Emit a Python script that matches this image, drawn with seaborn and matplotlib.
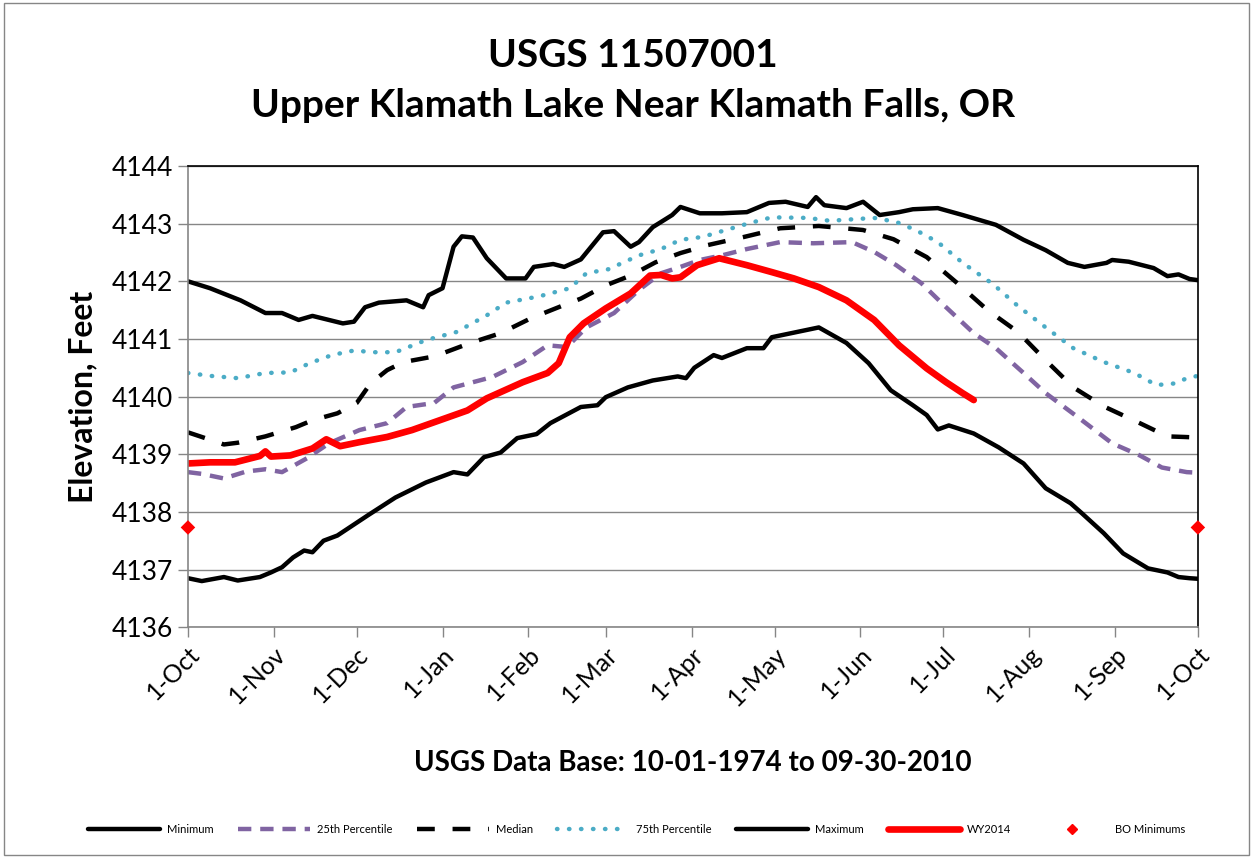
import matplotlib
matplotlib.use("Agg")
import matplotlib.pyplot as plt
import seaborn as sns
from matplotlib.patches import Rectangle
from matplotlib.lines import Line2D

# ---------------------------------------------------------------
# Datos (dia del año hidrologico, elevacion ft)
# ---------------------------------------------------------------
month_days = [0, 31, 61, 92, 123, 151, 182, 212, 243, 273, 304, 335, 365]
month_labels = ["1-Oct", "1-Nov", "1-Dec", "1-Jan", "1-Feb", "1-Mar", "1-Apr",
                "1-May", "1-Jun", "1-Jul", "1-Aug", "1-Sep", "1-Oct"]

max_days = [0, 8, 19, 28, 34, 40, 45, 56, 60, 64, 69, 79, 85, 87, 92, 96, 99,
            103, 108, 115, 122, 125, 132, 136, 142, 150, 154, 160, 163, 168,
            175, 178, 185, 193, 202, 210, 216, 224, 227, 230, 238, 244, 250,
            257, 262, 271, 280, 292, 302, 310, 318, 324, 332, 334, 340, 349,
            354, 358, 362, 365]
max_elev = [4142.00, 4141.88, 4141.67, 4141.45, 4141.45, 4141.33, 4141.40,
            4141.27, 4141.30, 4141.55, 4141.63, 4141.67, 4141.55, 4141.76,
            4141.88, 4142.60, 4142.78, 4142.76, 4142.40, 4142.05, 4142.05,
            4142.25, 4142.30, 4142.25, 4142.38, 4142.85, 4142.87, 4142.60,
            4142.68, 4142.94, 4143.15, 4143.29, 4143.18, 4143.18, 4143.20,
            4143.36, 4143.38, 4143.29, 4143.46, 4143.32, 4143.27, 4143.38,
            4143.15, 4143.20, 4143.25, 4143.27, 4143.15, 4142.98, 4142.72,
            4142.54, 4142.32, 4142.25, 4142.32, 4142.37, 4142.34, 4142.23,
            4142.09, 4142.12, 4142.04, 4142.02]

min_days = [0, 5, 13, 18, 26, 30, 34, 38, 42, 45, 49, 54, 65, 75, 86, 96, 101,
            107, 113, 119, 126, 131, 142, 148, 151, 159, 168, 177, 180, 183,
            190, 193, 202, 208, 211, 220, 228, 238, 246, 254, 262, 267, 271,
            275, 284, 293, 302, 310, 319, 323, 331, 338, 347, 354, 358, 362,
            365]
min_elev = [4136.85, 4136.80, 4136.87, 4136.81, 4136.87, 4136.95, 4137.04,
            4137.21, 4137.33, 4137.30, 4137.50, 4137.59, 4137.94, 4138.25,
            4138.51, 4138.69, 4138.65, 4138.95, 4139.03, 4139.28, 4139.35,
            4139.54, 4139.82, 4139.85, 4139.99, 4140.16, 4140.28, 4140.35,
            4140.32, 4140.50, 4140.72, 4140.67, 4140.84, 4140.84, 4141.03,
            4141.12, 4141.20, 4140.93, 4140.58, 4140.11, 4139.85, 4139.68,
            4139.43, 4139.50, 4139.36, 4139.12, 4138.84, 4138.41, 4138.15,
            4137.98, 4137.63, 4137.28, 4137.02, 4136.95, 4136.87, 4136.85,
            4136.84]

p25_days = [0, 5, 13, 21, 28, 34, 43, 51, 62, 72, 79, 89, 96, 110, 121, 130,
            137, 144, 154, 163, 171, 178, 185, 193, 202, 214, 226, 240, 248,
            256, 265, 274, 284, 292, 302, 310, 322, 334, 344, 352, 361, 365]
p25_elev = [4138.69, 4138.66, 4138.58, 4138.70, 4138.74, 4138.69, 4138.93,
            4139.19, 4139.42, 4139.54, 4139.82, 4139.89, 4140.16, 4140.34,
            4140.60, 4140.89, 4140.86, 4141.20, 4141.45, 4141.85, 4142.14,
            4142.25, 4142.37, 4142.45, 4142.56, 4142.68, 4142.66, 4142.68,
            4142.51, 4142.28, 4141.97, 4141.55, 4141.10, 4140.84, 4140.41,
            4140.06, 4139.63, 4139.19, 4138.98, 4138.77, 4138.69, 4138.68]

med_days = [0, 5, 13, 18, 28, 39, 45, 54, 61, 66, 72, 78, 87, 92, 102, 113,
            124, 136, 142, 151, 160, 169, 178, 188, 201, 214, 228, 244, 255,
            267, 278, 289, 300, 310, 320, 331, 344, 354, 360, 365]
med_elev = [4139.38, 4139.30, 4139.17, 4139.20, 4139.31, 4139.47, 4139.59,
            4139.71, 4139.89, 4140.23, 4140.46, 4140.60, 4140.68, 4140.75,
            4140.93, 4141.10, 4141.36, 4141.59, 4141.70, 4141.93, 4142.10,
            4142.33, 4142.49, 4142.63, 4142.77, 4142.92, 4142.96, 4142.89,
            4142.73, 4142.42, 4141.97, 4141.50, 4141.12, 4140.63, 4140.16,
            4139.83, 4139.54, 4139.31, 4139.30, 4139.29]

p75_days = [0, 8, 18, 28, 37, 44, 52, 60, 67, 75, 86, 97, 108, 115, 127, 138,
            144, 152, 163, 171, 178, 186, 193, 203, 211, 224, 232, 248, 256,
            263, 271, 280, 291, 300, 310, 320, 331, 342, 350, 357, 361, 365]
p75_elev = [4140.41, 4140.36, 4140.32, 4140.41, 4140.42, 4140.58, 4140.72,
            4140.80, 4140.77, 4140.77, 4140.98, 4141.12, 4141.41, 4141.63,
            4141.74, 4141.88, 4142.14, 4142.21, 4142.45, 4142.56, 4142.72,
            4142.77, 4142.87, 4143.01, 4143.11, 4143.10, 4143.05, 4143.10,
            4143.03, 4142.89, 4142.68, 4142.32, 4141.95, 4141.57, 4141.20,
            4140.84, 4140.60, 4140.41, 4140.20, 4140.23, 4140.32, 4140.36]

wy_days = [0, 8, 17, 26, 28, 30, 37, 45, 50, 55, 62, 72, 81, 91, 101, 108,
           121, 130, 134, 138, 143, 151, 160, 167, 171, 175, 178, 184, 192,
           202, 211, 219, 228, 238, 248, 257, 267, 274, 280, 284]
wy_elev = [4138.84, 4138.86, 4138.86, 4138.97, 4139.05, 4138.96, 4138.98,
           4139.10, 4139.26, 4139.14, 4139.21, 4139.30, 4139.42, 4139.59,
           4139.76, 4139.97, 4140.25, 4140.41, 4140.58, 4141.03, 4141.27,
           4141.53, 4141.79, 4142.10, 4142.11, 4142.05, 4142.07, 4142.28,
           4142.40, 4142.28, 4142.16, 4142.05, 4141.90, 4141.67, 4141.33,
           4140.89, 4140.49, 4140.25, 4140.06, 4139.94]

bo_days = [0, 365]
bo_elev = [4137.73, 4137.73]

# ---------------------------------------------------------------
sns.set_theme(style="white")
plt.rcParams['font.family'] = ['Lato', 'DejaVu Sans']
plt.rcParams['text.color'] = 'black'
plt.rcParams['axes.labelcolor'] = 'black'
plt.rcParams['xtick.labelcolor'] = 'black'
plt.rcParams['ytick.labelcolor'] = 'black'

fig = plt.figure(figsize=(12.53, 8.58), dpi=100)
ax = fig.add_axes([0.150, 0.269, 0.806, 0.5375])

sns.lineplot(x=min_days, y=min_elev, ax=ax, color="black", lw=3.2,
             sort=False, estimator=None)
sns.lineplot(x=max_days, y=max_elev, ax=ax, color="black", lw=3.2,
             sort=False, estimator=None)
sns.lineplot(x=p25_days, y=p25_elev, ax=ax, color="#8064a2", lw=3.2,
             sort=False, estimator=None, linestyle=(0, (3, 2)))
sns.lineplot(x=med_days, y=med_elev, ax=ax, color="black", lw=3.2,
             sort=False, estimator=None, linestyle=(0, (4, 4)))
sns.lineplot(x=p75_days, y=p75_elev, ax=ax, color="#4bacc6", lw=3.2,
             sort=False, estimator=None, linestyle=(0, (0.1, 2.6)),
             dash_capstyle="round")
sns.lineplot(x=wy_days, y=wy_elev, ax=ax, color="#ff0000", lw=4.8,
             sort=False, estimator=None)
sns.scatterplot(x=bo_days, y=bo_elev, ax=ax, color="#ff0000", marker="D",
                s=55, edgecolor="none", zorder=5, clip_on=False)

ax.set_xlim(0, 365)
ax.set_ylim(4136, 4144)
ax.set_yticks(range(4136, 4145))
ax.set_xticks(month_days)
ax.set_xticklabels(month_labels, rotation=45, ha="right", rotation_mode="anchor")
ax.tick_params(axis="x", labelsize=18, length=7, width=1, color="#868686",
               direction="out", bottom=True, pad=4)
ax.tick_params(axis="y", labelsize=19, length=7, width=1, color="#868686",
               direction="out", left=True, pad=4)
ax.grid(axis="y", color="#868686", lw=1)
ax.grid(axis="x", visible=False)
for side in ["left", "bottom"]:
    ax.spines[side].set_color("#868686")
    ax.spines[side].set_linewidth(1.2)
for side in ["top", "right"]:
    ax.spines[side].set_color("black")
    ax.spines[side].set_linewidth(1.2)

ax.set_ylabel("Elevation, Feet", fontsize=23, fontweight="bold", labelpad=10)
ax.set_xlabel("USGS Data Base: 10-01-1974 to 09-30-2010", fontsize=20,
              fontweight="bold", labelpad=29)

fig.text(0.505, 0.935, "USGS 11507001", ha="center", va="center",
         fontsize=28, fontweight="bold")
fig.text(0.505, 0.877, "Upper Klamath Lake Near Klamath Falls, OR",
         ha="center", va="center", fontsize=28, fontweight="bold")

handles = [
    Line2D([], [], color="black", lw=3.2),
    Line2D([], [], color="#8064a2", lw=3.2, linestyle=(0, (3, 2))),
    Line2D([], [], color="black", lw=3.2, linestyle=(0, (4, 4))),
    Line2D([], [], color="#4bacc6", lw=3.2, linestyle=(0, (0.1, 2.6)),
           dash_capstyle="round"),
    Line2D([], [], color="black", lw=3.2),
    Line2D([], [], color="#ff0000", lw=4.8),
    Line2D([], [], color="#ff0000", marker="D", lw=0, markersize=5),
]
labels = ["Minimum", "25th Percentile", "Median", "75th Percentile",
          "Maximum", "WY2014", "BO Minimums"]
fig.legend(handles, labels, loc="center", bbox_to_anchor=(0.508, 0.033),
           ncol=7, frameon=False, fontsize=8, handlelength=6.5,
           columnspacing=2.2, handletextpad=0.6)

fig.patches.append(Rectangle((0.003, 0.003), 0.994, 0.994,
                             transform=fig.transFigure, fill=False,
                             edgecolor="#868686", lw=1))

fig.savefig("out.png", dpi=100)
